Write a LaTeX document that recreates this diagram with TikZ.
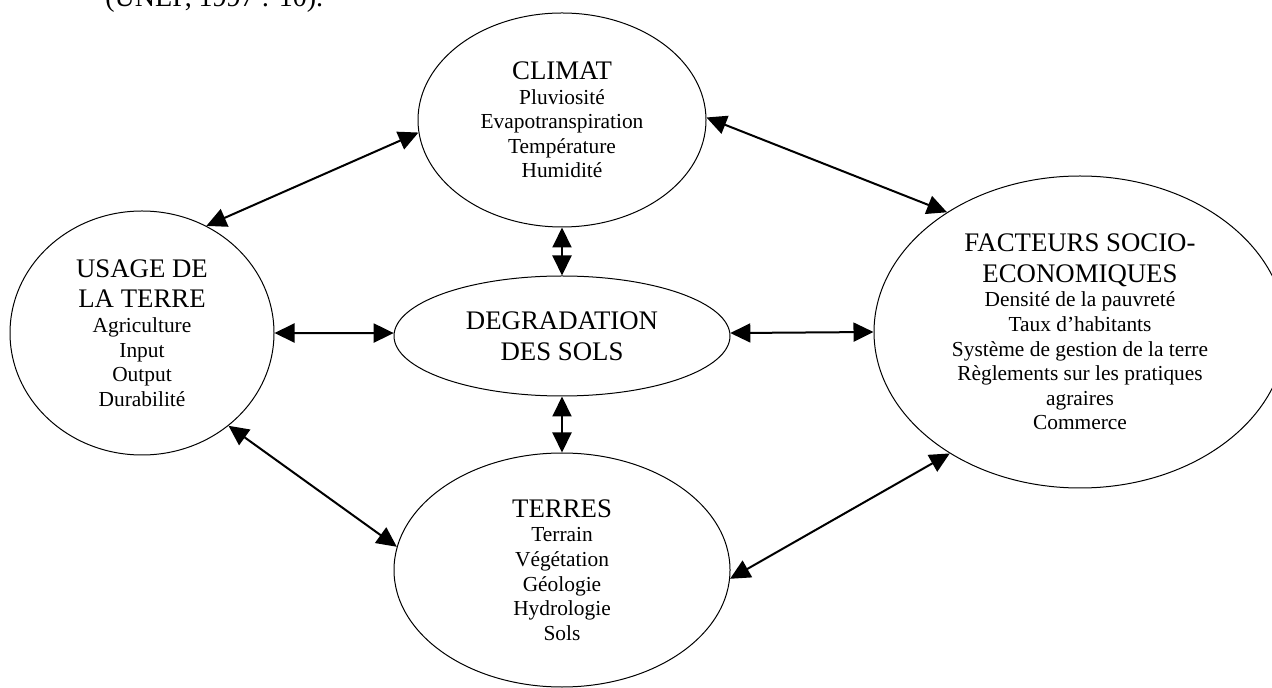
\documentclass[tikz,border=0pt]{standalone}
\usepackage{fontspec}
\setmainfont{Liberation Serif}
\usetikzlibrary{shapes.geometric,arrows.meta}
\newcommand{\mytitle}{\fontsize{13.4}{15.5}\selectfont}
\begin{document}
\begin{tikzpicture}[x=0.5pt,y=-0.5pt,
  blob/.style={ellipse, draw, line width=0.5pt, inner sep=0pt, align=center,
    font=\fontsize{10.7}{12.3}\selectfont},
  link/.style={line width=1pt, {Triangle[length=10pt,width=9.5pt]}-{Triangle[length=10pt,width=9.5pt]}}]
\useasboundingbox (0,0) rectangle (1272,688);
\clip (0,0) rectangle (1272,688);

\node[anchor=base west, inner sep=0pt, font=\fontsize{14}{16}\selectfont] (cite) at (105,7) {(UNEP, 1997 : 10).};

\node[blob, minimum width=144pt, minimum height=107pt] (clim) at (562,120)
  {{\mytitle CLIMAT}\\Pluviosité\\Evapotranspiration\\Température\\Humidité};
\node[blob, minimum width=132pt, minimum height=122pt] (usage) at (142,333)
  {{\mytitle USAGE DE}\\[3pt]{\mytitle LA TERRE}\\Agriculture\\Input\\Output\\Durabilité};
\node[blob, minimum width=168pt, minimum height=60pt] (deg) at (562,336)
  {{\mytitle DEGRADATION}\\[3pt]{\mytitle DES SOLS}};
\node[blob, minimum width=206pt, minimum height=156pt] (fact) at (1080,332)
  {{\mytitle FACTEURS SOCIO-}\\[3pt]{\mytitle ECONOMIQUES}\\Densité de la pauvreté\\Taux d’habitants\\Système de gestion de la terre\\Règlements sur les pratiques\\agraires\\Commerce};
\node[blob, minimum width=168pt, minimum height=117pt] (terres) at (562,570)
  {{\mytitle TERRES}\\Terrain\\Végétation\\Géologie\\Hydrologie\\Sols};

\draw[link] (usage.59) -- (clim.185);
\draw[link] (clim.1) -- (fact.138);
\draw[link] (usage.0) -- (deg.179);
\draw[link] (deg.1) -- (fact.180);
\draw[link] (clim.270) -- (deg.90);
\draw[link] (deg.270) -- (terres.90);
\draw[link] (usage.313) -- (terres.172);
\draw[link] (terres.357) -- (fact.223);
\end{tikzpicture}
\end{document}
